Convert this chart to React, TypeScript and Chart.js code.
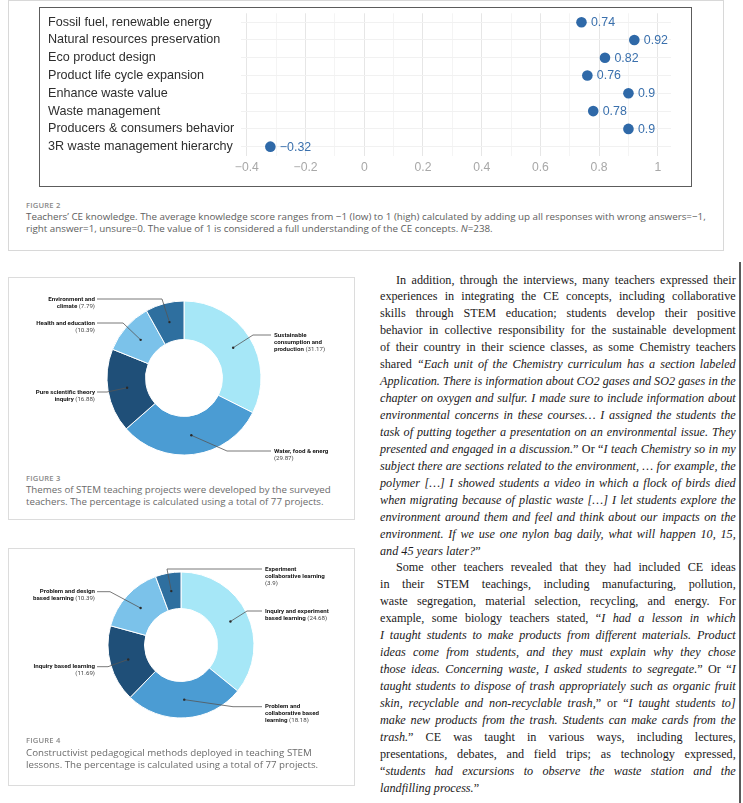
import React, { useEffect, useMemo, useRef } from "react";
import { Chart, registerables } from "chart.js";

Chart.register(...registerables);

// ---------------- data ----------------
const CE_TOPICS = [
  "Fossil fuel, renewable energy",
  "Natural resources preservation",
  "Eco product design",
  "Product life cycle expansion",
  "Enhance waste value",
  "Waste management",
  "Producers & consumers behavior",
  "3R waste management hierarchy",
];
const CE_SCORES = [0.74, 0.92, 0.82, 0.76, 0.9, 0.78, 0.9, -0.32];
const SCORE_TICKS = [-0.4, -0.2, 0, 0.2, 0.4, 0.6, 0.8, 1];

const THEME_NAMES = [
  "Sustainable consumption and production",
  "Water, food & energ",
  "Pure scientific theory inquiry",
  "Health and education",
  "Environment and climate",
];
const THEME_SHARES = [31.17, 29.87, 16.88, 10.39, 7.79];

const METHOD_NAMES = [
  "Inquiry and experiment based learning",
  "Problem and collaborative based learning",
  "Inquiry based learning",
  "Problem and design based learning",
  "Experiment collaborative learning",
];
const METHOD_SHARES = [24.68, 18.18, 11.69, 10.39, 3.9];

const SLICE_COLORS = ["#a6e7f7", "#4b9cd3", "#1f4f78", "#7bc2ea", "#2e6f9f"];

// ---------------- styles / layout ----------------
const SERIF = '"Liberation Serif", "Times New Roman", serif';
const SANS = '"Liberation Sans", Arial, sans-serif';
const CAP = '"Open Sans", sans-serif';
const DOT = "#2f69a8";

type LabelLayout = {
  side: "L" | "R";
  x: number;
  y: number;
  elbowX: number;
  words: number[];
  valueOwnLine: boolean;
};

const THEME_LABELS: LabelLayout[] = [
  { side: "R", x: 266, y: 58, elbowX: 245, words: [1, 2, 1], valueOwnLine: false },
  { side: "R", x: 266, y: 174, elbowX: 219, words: [4], valueOwnLine: true },
  { side: "L", x: 87, y: 115, elbowX: 99, words: [3, 1], valueOwnLine: false },
  { side: "L", x: 87, y: 46, elbowX: 115, words: [3], valueOwnLine: true },
  { side: "L", x: 87, y: 22, elbowX: 154, words: [2, 1], valueOwnLine: false },
];
const METHOD_LABELS: LabelLayout[] = [
  { side: "R", x: 257, y: 63, elbowX: 239, words: [3, 2], valueOwnLine: false },
  { side: "R", x: 257, y: 158.7, elbowX: 225, words: [2, 2, 1], valueOwnLine: false },
  { side: "L", x: 87, y: 118.7, elbowX: 100, words: [3], valueOwnLine: true },
  { side: "L", x: 87, y: 43.7, elbowX: 102, words: [3, 2], valueOwnLine: false },
  { side: "R", x: 257, y: 21, elbowX: 159, words: [1, 2], valueOwnLine: true },
];

// ---------------- helpers ----------------
let _mctx: CanvasRenderingContext2D | null = null;
function textWidth(t: string, font: string) {
  if (!_mctx) _mctx = document.createElement("canvas").getContext("2d")!;
  _mctx.font = font;
  return _mctx.measureText(t).width;
}
function fitSize(text: string, family: string, target: number, weight = "400") {
  const base = 20;
  return (base * target) / textWidth(text, `${weight} ${base}px ${family}`);
}
function fmtScore(v: number) {
  const s = String(Math.abs(Math.round(v * 100) / 100));
  return v < 0 ? "\u2212" + s : s;
}
const isMajor = (v: number) => SCORE_TICKS.some((t) => Math.abs(t - v) < 1e-9);

// ---------------- dot chart ----------------
function DotChart() {
  const ref = useRef<HTMLCanvasElement>(null);
  useEffect(() => {
    const valueLabels = {
      id: "valueLabels",
      afterDatasetsDraw(chart: any) {
        const ctx = chart.ctx;
        const meta = chart.getDatasetMeta(0);
        ctx.save();
        ctx.font = `12.4px ${SANS}`;
        ctx.fillStyle = "#3a70ad";
        ctx.textAlign = "left";
        ctx.textBaseline = "middle";
        meta.data.forEach((pt: any, i: number) => {
          ctx.fillText(fmtScore(CE_SCORES[i]), pt.x + 9.5, pt.y + 0.5);
        });
        ctx.restore();
      },
    };
    const chart = new Chart(ref.current!, {
      type: "line",
      data: {
        labels: CE_TOPICS,
        datasets: [
          {
            data: CE_SCORES,
            showLine: false,
            pointRadius: 5.3,
            pointHoverRadius: 5.3,
            pointBackgroundColor: DOT,
            pointBorderColor: DOT,
            pointBorderWidth: 0,
            borderColor: DOT,
          },
        ],
      },
      options: {
        indexAxis: "y",
        responsive: false,
        animation: false,
        events: [],
        layout: { padding: { left: 8, right: 20, top: 3.7, bottom: 6.8 } },
        plugins: { legend: { display: false }, tooltip: { enabled: false } },
        scales: {
          x: {
            type: "linear",
            min: -0.42,
            max: 1.045,
            afterBuildTicks: (scale: any) => {
              const ticks: { value: number }[] = [];
              SCORE_TICKS.forEach((t, i) => {
                ticks.push({ value: t });
                if (i < SCORE_TICKS.length - 1) ticks.push({ value: (t + SCORE_TICKS[i + 1]) / 2 });
              });
              scale.ticks = ticks;
            },
            grid: {
              color: (c: any) => (isMajor(c.tick?.value ?? 0) ? "#e6e6e6" : "#f4f4f4"),
              drawTicks: false,
              lineWidth: 1,
            },
            border: { display: false },
            ticks: {
              autoSkip: false,
              maxRotation: 0,
              padding: 4.5,
              color: "#a8a8a8",
              font: { family: SANS, size: 12.2 },
              callback: (v: any) => (isMajor(Number(v)) ? fmtScore(Number(v)) : ""),
            },
          },
          y: {
            type: "category",
            offset: true,
            grid: { color: "#f1f1f1", drawTicks: false, lineWidth: 1 },
            border: { display: false },
            afterFit: (scale: any) => {
              scale.width = 193;
            },
            ticks: {
              autoSkip: false,
              crossAlign: "far",
              padding: 0,
              color: "#2e2e2e",
              font: { family: SANS, size: 12.6, lineHeight: 0.5 },
            },
          },
        },
      } as any,
      plugins: [valueLabels],
    });
    return () => chart.destroy();
  }, []);
  return <canvas ref={ref} width={651} height={178} style={{ position: "absolute", left: 0, top: 0, width: 651, height: 178 }} />;
}

// ---------------- doughnut ----------------
function makeLeaderPlugin(names: string[], values: number[], layout: LabelLayout[]) {
  return {
    id: "leaders",
    afterDatasetsDraw(chart: any) {
      const ctx: CanvasRenderingContext2D = chart.ctx;
      const meta = chart.getDatasetMeta(0);
      const size = Math.min(7.2, fitSize("consumption and", "Roboto", 48, "bold"));
      const boldFont = `bold ${size}px Roboto`;
      const regFont = `${size}px Roboto`;
      ctx.save();
      layout.forEach((item, i) => {
        const arc = meta.data[i];
        const p = arc.getProps(["x", "y", "startAngle", "endAngle", "innerRadius", "outerRadius"], true);
        const mid = (p.startAngle + p.endAngle) / 2;
        const r = (p.innerRadius + p.outerRadius) / 2;
        const px = p.x + Math.cos(mid) * r;
        const py = p.y + Math.sin(mid) * r;
        const lineEnd = item.side === "L" ? item.x + 2 : item.x - 3;
        ctx.strokeStyle = "#555555";
        ctx.lineWidth = 0.8;
        ctx.beginPath();
        ctx.moveTo(px, py);
        ctx.lineTo(item.elbowX, item.y);
        ctx.lineTo(lineEnd, item.y);
        ctx.stroke();
        ctx.fillStyle = "#2a2a2a";
        ctx.beginPath();
        ctx.arc(px, py, 1.2, 0, Math.PI * 2);
        ctx.fill();

        const words = names[i].split(" ");
        const lines: { bold: string; reg: string }[] = [];
        let k = 0;
        item.words.forEach((n) => {
          lines.push({ bold: words.slice(k, k + n).join(" "), reg: "" });
          k += n;
        });
        const val = "(" + String(values[i]) + ")";
        if (item.valueOwnLine) lines.push({ bold: "", reg: val });
        else lines[lines.length - 1].reg = " " + val;
        ctx.textBaseline = "middle";
        ctx.textAlign = "left";
        lines.forEach((ln, j) => {
          const y = item.y + j * 7;
          const wb = textWidth(ln.bold, boldFont);
          const wr = textWidth(ln.reg, regFont);
          const x0 = item.side === "L" ? item.x - wb - wr : item.x;
          ctx.font = boldFont;
          ctx.fillStyle = "#161616";
          ctx.fillText(ln.bold, x0, y);
          ctx.font = regFont;
          ctx.fillStyle = "#444444";
          ctx.fillText(ln.reg, x0 + wb, y);
        });
      });
      ctx.restore();
    },
  };
}

function Donut(props: {
  names: string[];
  values: number[];
  labels: LabelLayout[];
  width: number;
  height: number;
  padding: { left: number; right: number; top: number; bottom: number };
}) {
  const ref = useRef<HTMLCanvasElement>(null);
  useEffect(() => {
    const chart = new Chart(ref.current!, {
      type: "doughnut",
      data: {
        labels: props.names,
        datasets: [
          {
            data: props.values,
            backgroundColor: SLICE_COLORS,
            borderColor: "#ffffff",
            borderWidth: 1,
            hoverOffset: 0,
          },
        ],
      },
      options: {
        responsive: false,
        animation: false,
        events: [],
        cutout: "50%",
        layout: { padding: props.padding },
        plugins: { legend: { display: false }, tooltip: { enabled: false } },
      } as any,
      plugins: [makeLeaderPlugin(props.names, props.values, props.labels)],
    });
    return () => chart.destroy();
  }, []);
  return (
    <canvas
      ref={ref}
      width={props.width}
      height={props.height}
      style={{ position: "absolute", left: 0, top: 0, width: props.width, height: props.height }}
    />
  );
}

// ---------------- body text ----------------
type Seg = [string, boolean];
const R = (t: string): Seg => [t, false];
const I = (t: string): Seg => [t, true];
type BodyLine = { indent?: boolean; last?: boolean; segs: Seg[] };
const BODY: BodyLine[] = [
  { indent: true, segs: [R("In addition, through the interviews, many teachers expressed their")] },
  { segs: [R("experiences in integrating the CE concepts, including collaborative")] },
  { segs: [R("skills through STEM education; students develop their positive")] },
  { segs: [R("behavior in collective responsibility for the sustainable development")] },
  { segs: [R("of their country in their science classes, as some Chemistry teachers")] },
  { segs: [R("shared "), I("\u201CEach unit of the Chemistry curriculum has a section labeled")] },
  { segs: [I("Application. There is information about CO2 gases and SO2 gases in the")] },
  { segs: [I("chapter on oxygen and sulfur. I made sure to include information about")] },
  { segs: [I("environmental concerns in these courses\u2026 I assigned the students the")] },
  { segs: [I("task of putting together a presentation on an environmental issue. They")] },
  { segs: [I("presented and engaged in a discussion."), R("\u201D Or \u201C"), I("I teach Chemistry so in my")] },
  { segs: [I("subject there are sections related to the environment, \u2026 for example, the")] },
  { segs: [I("polymer [\u2026] I showed students a video in which a flock of birds died")] },
  { segs: [I("when migrating because of plastic waste [\u2026] I let students explore the")] },
  { segs: [I("environment around them and feel and think about our impacts on the")] },
  { segs: [I("environment. If we use one nylon bag daily, what will happen 10, 15,")] },
  { last: true, segs: [I("and 45 years later?"), R("\u201D")] },
  { indent: true, segs: [R("Some other teachers revealed that they had included CE ideas")] },
  { segs: [R("in their STEM teachings, including manufacturing, pollution,")] },
  { segs: [R("waste segregation, material selection, recycling, and energy. For")] },
  { segs: [R("example, some biology teachers stated, \u201C"), I("I had a lesson in which")] },
  { segs: [I("I taught students to make products from different materials. Product")] },
  { segs: [I("ideas come from students, and they must explain why they chose")] },
  { segs: [I("those ideas. Concerning waste, I asked students to segregate."), R("\u201D Or \u201C"), I("I")] },
  { segs: [I("taught students to dispose of trash appropriately such as organic fruit")] },
  { segs: [I("skin, recyclable and non-recyclable trash,"), R("\u201D or \u201C"), I("I taught students to]")] },
  { segs: [I("make new products from the trash. Students can make cards from the")] },
  { segs: [I("trash."), R("\u201D CE was taught in various ways, including lectures,")] },
  { segs: [R("presentations, debates, and field trips; as technology expressed,")] },
  { segs: [R("\u201C"), I("students had excursions to observe the waste station and the")] },
  { last: true, segs: [I("landfilling process."), R("\u201D")] },
];

const BODY_LEFT = 380;
const BODY_WIDTH = 356;
const BODY_INDENT = 16;
const BODY_LINE = 16.93;

function Body() {
  const { size, spacings } = useMemo(() => {
    const base = 14;
    const nat = (l: BodyLine, s: number) =>
      l.segs.reduce((w, [t, it]) => w + textWidth(t, `${it ? "italic " : ""}${s}px ${SERIF}`), 0);
    let sz = 14;
    BODY.forEach((l) => {
      if (l.last) return;
      const target = BODY_WIDTH - (l.indent ? BODY_INDENT : 0);
      sz = Math.min(sz, (base * target) / nat(l, base));
    });
    const sp = BODY.map((l) => {
      if (l.last) return 0;
      const target = BODY_WIDTH - (l.indent ? BODY_INDENT : 0);
      const spaces = l.segs.reduce((n, [t]) => n + (t.match(/ /g) || []).length, 0);
      return spaces ? (target - nat(l, sz) - 0.3) / spaces : 0;
    });
    return { size: sz, spacings: sp };
  }, []);
  return (
    <div
      style={{
        position: "absolute",
        left: BODY_LEFT,
        top: 280 - BODY_LINE / 2,
        width: BODY_WIDTH,
        fontFamily: SERIF,
        fontSize: size,
        lineHeight: BODY_LINE + "px",
        color: "#1c1a1b",
      }}
    >
      {BODY.map((l, i) => (
        <div key={i} style={{ whiteSpace: "pre", paddingLeft: l.indent ? BODY_INDENT : 0, wordSpacing: spacings[i] }}>
          {l.segs.map(([t, it], j) => (
            <span key={j} style={{ fontStyle: it ? "italic" : "normal" }}>
              {t}
            </span>
          ))}
        </div>
      ))}
    </div>
  );
}

// ---------------- captions ----------------
const CAP2_L1 =
  "Teachers\u2019 CE knowledge. The average knowledge score ranges from \u22121 (low) to 1 (high) calculated by adding up all responses with wrong answers=\u22121,";
const CAP2_L2 = "right answer=1, unsure=0. The value of 1 is considered a full understanding of the CE concepts. ";
const CAP3 = [
  "Themes of STEM teaching projects were developed by the surveyed",
  "teachers. The percentage is calculated using a total of 77 projects.",
];
const CAP4 = [
  "Constructivist pedagogical methods deployed in teaching STEM",
  "lessons. The percentage is calculated using a total of 77 projects.",
];

function FigLabel(props: { text: string; top: number }) {
  return (
    <div
      style={{
        position: "absolute",
        left: 26,
        top: props.top,
        fontFamily: CAP,
        fontSize: 7.6,
        fontWeight: 600,
        lineHeight: "9px",
        letterSpacing: 0.2,
        color: "#888888",
        whiteSpace: "pre",
      }}
    >
      {props.text}
    </div>
  );
}

export default function App() {
  const sizes = useMemo(
    () => ({
      c2: fitSize(CAP2_L1, CAP, 680),
      c3: fitSize(CAP3[0], CAP, 305),
      c4: fitSize(CAP4[0], CAP, 286),
    }),
    []
  );
  const capStyle = (top: number, size: number, color: string, lh: number): React.CSSProperties => ({
    position: "absolute",
    left: 26,
    top,
    fontFamily: CAP,
    fontSize: size,
    lineHeight: lh + "px",
    color,
    whiteSpace: "pre",
  });
  return (
    <div style={{ position: "absolute", left: 0, top: 0, width: 743, height: 803, overflow: "hidden", background: "#fff" }}>
      {/* Figure 2 */}
      <div style={{ position: "absolute", left: 8, top: 0, width: 716, height: 251, border: "1px solid #d8d8d8", boxSizing: "border-box" }} />
      <div style={{ position: "absolute", left: 39, top: 7, width: 653, height: 180, border: "1px solid #5c5c5c", boxSizing: "border-box" }}>
        <DotChart />
      </div>
      <FigLabel text="FIGURE 2" top={200.5} />
      <div style={capStyle(211, sizes.c2, "#5e5e5e", 12.3)}>
        <div>{CAP2_L1}</div>
        <div>
          {CAP2_L2}
          <i>N</i>=238.
        </div>
      </div>

      {/* Figure 3 */}
      <div style={{ position: "absolute", left: 8, top: 277, width: 347, height: 243, border: "1px solid #dcdcdc", boxSizing: "border-box" }} />
      <div style={{ position: "absolute", left: 8, top: 277, width: 347, height: 195 }}>
        <Donut
          names={THEME_NAMES}
          values={THEME_SHARES}
          labels={THEME_LABELS}
          width={347}
          height={195}
          padding={{ left: 98.5, right: 93.5, top: 23.5, bottom: 16.5 }}
        />
      </div>
      <FigLabel text="FIGURE 3" top={473.5} />
      <div style={capStyle(484, sizes.c3, "#6b6b6b", 12)}>
        <div>{CAP3[0]}</div>
        <div>{CAP3[1]}</div>
      </div>

      {/* Figure 4 */}
      <div style={{ position: "absolute", left: 8, top: 548, width: 347, height: 238, border: "1px solid #dcdcdc", boxSizing: "border-box" }} />
      <div style={{ position: "absolute", left: 8, top: 548, width: 347, height: 190 }}>
        <Donut
          names={METHOD_NAMES}
          values={METHOD_SHARES}
          labels={METHOD_LABELS}
          width={347}
          height={190}
          padding={{ left: 99.5, right: 100.5, top: 23.5, bottom: 19.5 }}
        />
      </div>
      <FigLabel text="FIGURE 4" top={735.5} />
      <div style={capStyle(747, sizes.c4, "#6b6b6b", 12)}>
        <div>{CAP4[0]}</div>
        <div>{CAP4[1]}</div>
      </div>

      {/* Body text */}
      <Body />
      <div style={{ position: "absolute", left: 739, top: 262, width: 2, height: 541, background: "#5a5a5a" }} />
    </div>
  );
}
